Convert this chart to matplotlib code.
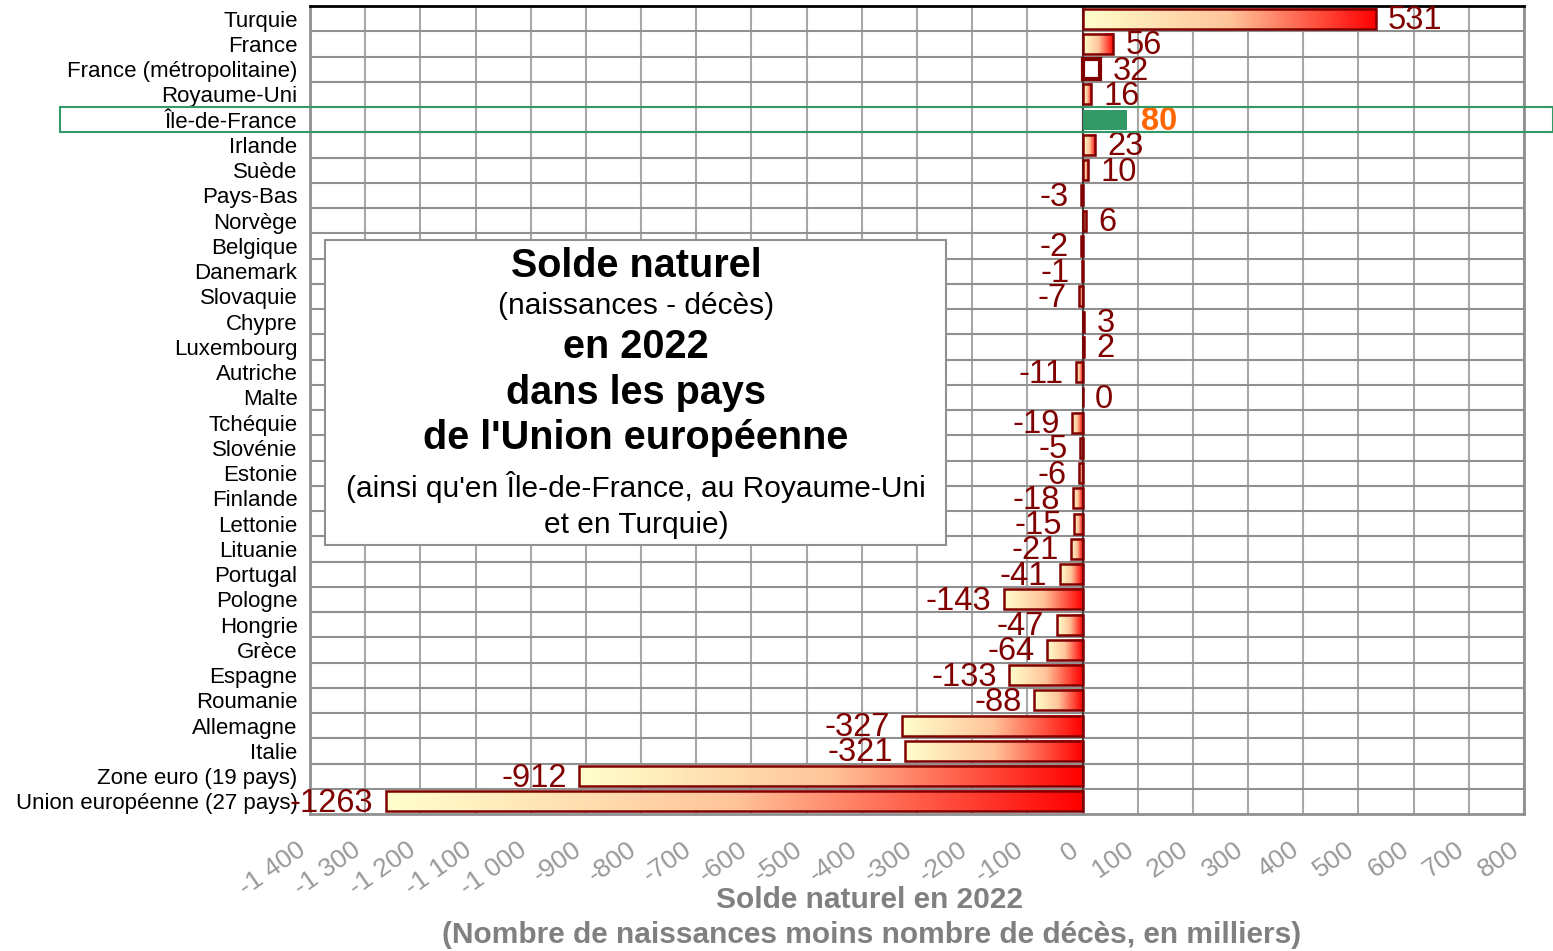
import numpy as np
import matplotlib.pyplot as plt
from matplotlib.colors import LinearSegmentedColormap
from matplotlib.patches import Rectangle
import matplotlib.transforms as mtransforms

plt.rcParams['font.family'] = ['Liberation Sans', 'DejaVu Sans']

# données : solde naturel 2022 (en milliers)
pays = [
    "Turquie", "France", "France (métropolitaine)", "Royaume-Uni", "Île-de-France",
    "Irlande", "Suède", "Pays-Bas", "Norvège", "Belgique", "Danemark", "Slovaquie",
    "Chypre", "Luxembourg", "Autriche", "Malte", "Tchéquie", "Slovénie", "Estonie",
    "Finlande", "Lettonie", "Lituanie", "Portugal", "Pologne", "Hongrie", "Grèce",
    "Espagne", "Roumanie", "Allemagne", "Italie", "Zone euro (19 pays)",
    "Union européenne (27 pays)",
]
solde = [
    531, 56, 32, 16, 80, 23, 10, -3, 6, -2, -1, -7, 3, 2, -11, 0, -19, -5, -6,
    -18, -15, -21, -41, -143, -47, -64, -133, -88, -327, -321, -912, -1263,
]
x_ticks = list(range(-1400, 900, 100))
x_tick_labels = [
    "-1 400", "-1 300", "-1 200", "-1 100", "-1 000", "-900", "-800", "-700",
    "-600", "-500", "-400", "-300", "-200", "-100", "0", "100", "200", "300",
    "400", "500", "600", "700", "800",
]
highlight = "Île-de-France"
outlined = "France (métropolitaine)"

W, H = 1553, 951
fig = plt.figure(figsize=(W / 100, H / 100), dpi=100)
ax = fig.add_axes([310 / W, 1 - 814 / H, 1214 / W, 808 / H])

cmap = LinearSegmentedColormap.from_list(
    "solde", [(0, "#FFFFCC"), (0.5, "#FFC49A"), (1, "#FF0000")])
grad = np.linspace(0, 1, 256).reshape(1, -1)
dark_red = "#800000"
bar_h = 0.8
n = len(pays)

for i, (p, v) in enumerate(zip(pays, solde)):
    if p == highlight:
        ax.barh(i, v, height=bar_h, color="#339966", edgecolor="none", zorder=3)
    elif p == outlined:
        ax.barh(i, v, height=bar_h, color="white", edgecolor=dark_red,
                linewidth=3, zorder=3)
    else:
        ax.imshow(grad, cmap=cmap, aspect="auto", zorder=2,
                  extent=[min(0, v), max(0, v), i + bar_h / 2, i - bar_h / 2])
        ax.barh(i, v, height=bar_h, fill=False, edgecolor=dark_red,
                linewidth=1.8, zorder=3)
    if p == highlight:
        ax.annotate(str(v), xy=(v, i), xytext=(10, -1.5), textcoords="offset points",
                    ha="left", va="center", fontsize=23.5, color="#FF6600",
                    fontweight="bold")
    else:
        off = 9 if v >= 0 else -9
        ax.annotate(str(v), xy=(v, i), xytext=(off, -1.5), textcoords="offset points",
                    ha="left" if v >= 0 else "right", va="center",
                    fontsize=23.5, color=dark_red, zorder=4)

ax.set_xlim(-1400, 800)
ax.set_ylim(n - 0.5, -0.5)
ax.axvline(0, color="#404040", lw=1.5, zorder=2.5)

ax.set_yticks(range(n))
ax.set_yticklabels(pays, fontsize=16)
ax.set_yticks(np.arange(n - 1) + 0.5, minor=True)
ax.set_xticks(x_ticks)
ax.set_xticklabels(x_tick_labels, rotation=35, ha="right", va="top",
                   fontsize=19, color="#999999")
ax.tick_params(axis="both", which="both", length=0)
ax.tick_params(axis="y", pad=9)
ax.tick_params(axis="x", pad=17)
ax.set_axisbelow(True)
ax.grid(axis="x", which="major", color="#A8A8A8", lw=1.5)
ax.grid(axis="y", which="minor", color="#909090", lw=1.5)
for s in ["left", "right", "bottom"]:
    ax.spines[s].set_color("#909090")
    ax.spines[s].set_linewidth(2)
ax.spines["top"].set_color("black")
ax.spines["top"].set_linewidth(2)

# cadre vert autour de l'Île-de-France
trans = mtransforms.blended_transform_factory(ax.transAxes, ax.transData)
k = pays.index(highlight)
ax.add_patch(Rectangle(((60 - 310) / 1214, k - 0.5), (W - 60) / 1214, 1,
                       transform=trans, fill=False, edgecolor="#339966",
                       lw=1.5, clip_on=False, zorder=5))

# encadré titre
fig.patches.append(Rectangle((325 / W, 1 - 545 / H), 621 / W, 305 / H,
                             transform=fig.transFigure, facecolor="white",
                             edgecolor="#909090", lw=1.5, zorder=5))
cx = 636 / W
titre = [
    ("Solde naturel", 266, 28.5, "bold"),
    ("(naissances - décès)", 306, 21.5, "normal"),
    ("en 2022", 347, 28.5, "bold"),
    ("dans les pays", 393, 28.5, "bold"),
    ("de l'Union européenne", 438, 28.5, "bold"),
    ("(ainsi qu'en Île-de-France, au Royaume-Uni", 487, 21.5, "normal"),
    ("et en Turquie)", 525, 21.5, "normal"),
]
for txt, y, fs, fw in titre:
    fig.text(cx, 1 - y / H, txt, ha="center", va="center", fontsize=fs,
             fontweight=fw, zorder=6)

fig.text(870 / W, 1 - 900 / H, "Solde naturel en 2022", ha="center", va="center",
         fontsize=21.5, fontweight="bold", color="#808080")
fig.text(872 / W, 1 - 935 / H,
         "(Nombre de naissances moins nombre de décès, en milliers)",
         ha="center", va="center", fontsize=21.5, fontweight="bold", color="#808080")

fig.savefig("out.png", dpi=100)
